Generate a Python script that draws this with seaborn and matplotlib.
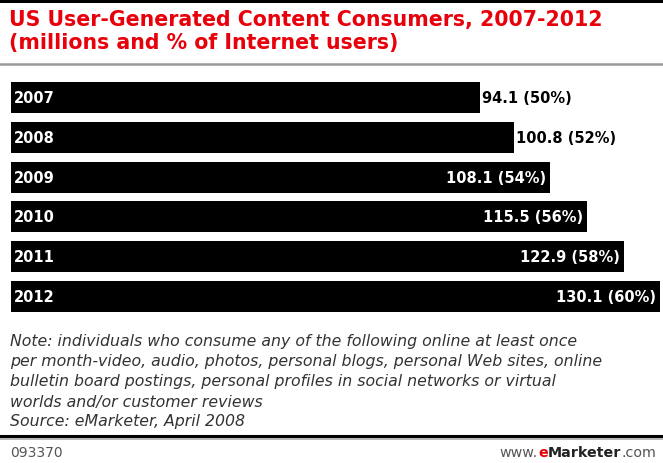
import matplotlib
matplotlib.use("Agg")
import matplotlib.pyplot as plt
from matplotlib.lines import Line2D
from matplotlib.patches import Rectangle
import seaborn as sns
import pandas as pd

years = ["2007", "2008", "2009", "2010", "2011", "2012"]
consumers = [94.1, 100.8, 108.1, 115.5, 122.9, 130.1]
pct_users = [50, 52, 54, 56, 58, 60]

title_lines = ["US User-Generated Content Consumers, 2007-2012",
               "(millions and % of Internet users)"]
note_lines = [
    "Note: individuals who consume any of the following online at least once",
    "per month-video, audio, photos, personal blogs, personal Web sites, online",
    "bulletin board postings, personal profiles in social networks or virtual",
    "worlds and/or customer reviews",
    "Source: eMarketer, April 2008",
]
chart_id = "093370"

sns.set_theme(style="white")
plt.rcParams["font.family"] = ["DejaVu Sans"]

W, H = 663, 464
fig = plt.figure(figsize=(W / 100, H / 100), dpi=100)
fig.patch.set_facecolor("white")

def fy(py):
    return 1 - py / H

def fx(px):
    return px / W

# axes placement: bars from x=11..660, y=83..313
ax = fig.add_axes([fx(11), fy(313), fx(660) - fx(11), fy(83) - fy(313)])
df = pd.DataFrame({"year": years, "value": consumers, "pct": pct_users})
sns.barplot(data=df, x="value", y="year", color="black", width=0.775,
            orient="h", ax=ax, saturation=1, edgecolor="black", linewidth=0)
ax.set_xlim(0, max(consumers))
n = len(years)
ax.set_ylim(n - 1 + 0.3875, -0.3875)
ax.set_axis_off()

for i, (v, p, y) in enumerate(zip(consumers, pct_users, years)):
    ax.annotate(y, xy=(0, i), xytext=(3, 0), textcoords="offset pixels",
                ha="left", va="center", color="white", fontsize=10.5,
                fontweight="bold")
    lab = f"{v:.1f} ({p}%)"
    if v < 105:
        ax.annotate(lab, xy=(v, i), xytext=(2, 0), textcoords="offset pixels",
                    ha="left", va="center", color="black", fontsize=10.5,
                    fontweight="bold", annotation_clip=False)
    else:
        ax.annotate(lab, xy=(v, i), xytext=(-4, 0), textcoords="offset pixels",
                    ha="right", va="center", color="white", fontsize=10.5,
                    fontweight="bold")

# top black band
fig.add_artist(Rectangle((0, fy(4)), 1, fy(0) - fy(4), transform=fig.transFigure,
                         color="black", lw=0))
# title
for k, t in enumerate(title_lines):
    fig.text(fx(9), fy(20 + 23 * k), t, color="#e8000b", fontsize=14.8,
             fontweight="bold", ha="left", va="center")
# gray rule under title
fig.add_artist(Line2D([0, 1], [fy(65), fy(65)], transform=fig.transFigure,
                      color="#9a9a9a", lw=1.8))

# notes
for k, t in enumerate(note_lines):
    fig.text(fx(10), fy(342 + 20 * k), t, color="#333333", fontsize=11.3,
             fontstyle="italic", ha="left", va="center")

# bottom rules
fig.add_artist(Line2D([0, 1], [fy(437), fy(437)], transform=fig.transFigure,
                      color="black", lw=2.2))
fig.add_artist(Line2D([0, 1], [fy(440), fy(440)], transform=fig.transFigure,
                      color="#aaaaaa", lw=1.2))

# footer
fig.text(fx(10), fy(453), chart_id, color="#555555", fontsize=10,
         ha="left", va="center")
t_com = fig.text(fx(656), fy(453), ".com", color="#555555", fontsize=10.3,
                 ha="right", va="center")
ann_m = fig.text(0, 0, "")
ann_m = plt.annotate("Marketer", xy=(0, 0), xycoords=t_com, ha="right", va="bottom",
                     color="#222222", fontsize=10.3, fontweight="bold")
ann_e = plt.annotate("e", xy=(0, 0), xycoords=ann_m, ha="right", va="bottom",
                     color="#e8000b", fontsize=10.3, fontweight="bold")
ann_w = plt.annotate("www.", xy=(0, 0), xycoords=ann_e, ha="right", va="bottom",
                     color="#555555", fontsize=10.3)

fig.savefig("out.png", dpi=100, facecolor="white")
